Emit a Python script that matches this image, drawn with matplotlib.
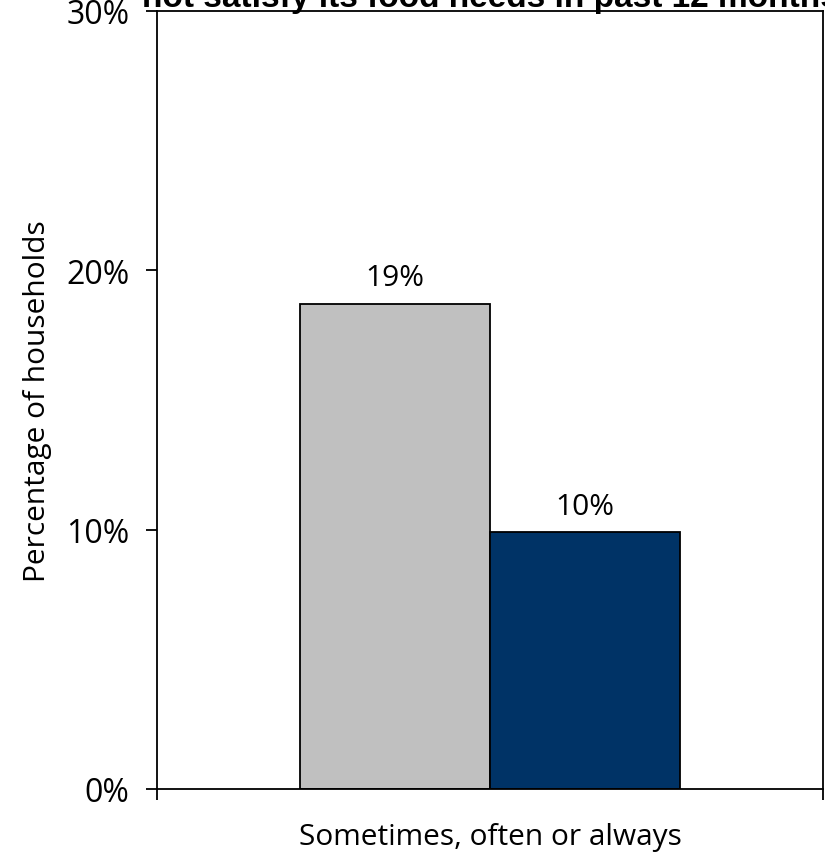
import matplotlib
matplotlib.use("Agg")
import matplotlib.pyplot as plt
from matplotlib.ticker import FixedLocator

# Data
category = "Sometimes, often or always"
series_values = [18.7, 9.9]          # percent of households
series_colors = ["#C0C0C0", "#003366"]
y_ticks = [0, 10, 20, 30]
title_text = "not satisfy its food needs in past 12 months"
y_label = "Percentage of households"

plt.rcParams["font.family"] = ["Open Sans", "DejaVu Sans"]
FS = 21.5

fig = plt.figure(figsize=(8.25, 8.54), dpi=100)
ax = fig.add_axes([157 / 825, 1 - 790 / 854, 666 / 825, 778 / 854])

bar_w = 0.2857
offsets = [-bar_w / 2, bar_w / 2]
for v, c, o in zip(series_values, series_colors, offsets):
    ax.bar(o, v, width=bar_w, color=c, edgecolor="black", linewidth=1.3, zorder=2)
    ax.text(o, v + 0.45, f"{v:.0f}%", ha="center", va="bottom", fontsize=FS)

ax.set_xlim(-0.5, 0.5)
ax.set_ylim(0, 30)
ax.set_yticks(y_ticks)
ax.set_yticklabels([f"{t}%" for t in y_ticks], fontsize=23)
ax.tick_params(axis="y", direction="out", length=8, width=1.3, pad=12)

ax.set_xticks([0])
ax.set_xticklabels([category], fontsize=FS)
ax.xaxis.set_minor_locator(FixedLocator([-0.5, 0.5]))
ax.tick_params(axis="x", which="major", length=0, pad=24)
ax.tick_params(axis="x", which="minor", direction="out", length=8, width=1.3)

for s in ax.spines.values():
    s.set_linewidth(1.3)
    s.set_color("black")

ax.set_ylabel(y_label, fontsize=FS, labelpad=10)

fig.text(490 / 825, 1 - 7 / 854, title_text,
         ha="center", va="baseline", fontsize=24, fontweight="bold",
         family=["Liberation Sans", "DejaVu Sans"])

fig.savefig("out.png", dpi=100)
